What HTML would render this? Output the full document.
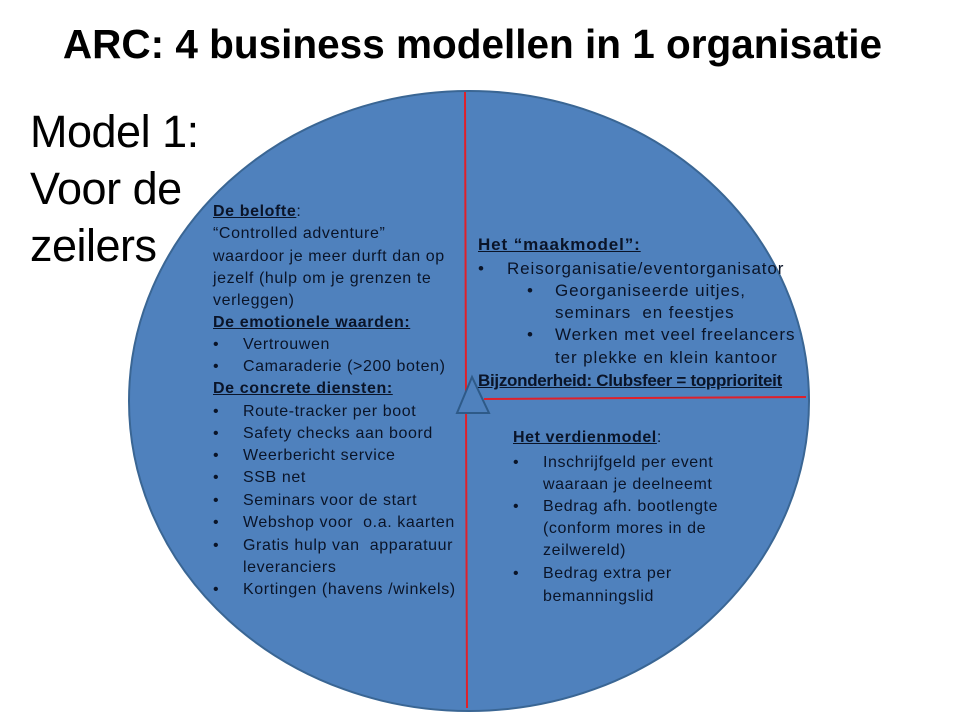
<!DOCTYPE html>
<html><head><meta charset="utf-8"><style>
body{margin:0;width:960px;height:720px;background:#fff;position:relative;overflow:hidden;font-family:"Liberation Sans",sans-serif}
.t{position:absolute;white-space:nowrap;font-size:16px;color:#0a1428;letter-spacing:0.6px;line-height:18px}
.r{font-size:17px;letter-spacing:0.9px}
.b{font-weight:bold;text-decoration:underline}
.bl{position:absolute;left:0}
</style></head><body>
<div style="position:absolute;left:40px;width:865px;top:21px;text-align:center;font-size:40.5px;font-weight:bold;letter-spacing:0px">ARC: 4 business modellen in 1 organisatie</div>
<div style="position:absolute;left:30px;top:103px;font-size:45px;line-height:57px;letter-spacing:-0.5px">Model 1:<br>Voor de<br>zeilers</div>
<svg style="position:absolute;left:0;top:0" width="960" height="720">
<ellipse cx="469" cy="401" rx="340" ry="310" fill="#4f81bd" stroke="#3a6694" stroke-width="2"/>
<line x1="465" y1="92" x2="467" y2="708" stroke="#e0202a" stroke-width="2"/>
<line x1="484" y1="399" x2="806" y2="397" stroke="#e0202a" stroke-width="2"/>
<polygon points="472,377 457,413 489,413" fill="#4f81bd" stroke="#2e5a88" stroke-width="2"/>
</svg>
<div class="t" style="left:213px;top:203px"><span class="b">De belofte</span>:</div>
<div class="t" style="left:213px;top:225px">“Controlled adventure”</div>
<div class="t" style="left:213px;top:248px">waardoor je meer durft dan op</div>
<div class="t" style="left:213px;top:270px">jezelf (hulp om je grenzen te</div>
<div class="t" style="left:213px;top:292px">verleggen)</div>
<div class="t b" style="left:213px;top:314px">De emotionele waarden:</div>
<div class="t" style="left:243px;top:336px"><span class="bl" style="left:-30px">•</span>Vertrouwen</div>
<div class="t" style="left:243px;top:358px"><span class="bl" style="left:-30px">•</span>Camaraderie (&gt;200 boten)</div>
<div class="t b" style="left:213px;top:380px">De concrete diensten:</div>
<div class="t" style="left:243px;top:403px"><span class="bl" style="left:-30px">•</span>Route-tracker per boot</div>
<div class="t" style="left:243px;top:425px"><span class="bl" style="left:-30px">•</span>Safety checks aan boord</div>
<div class="t" style="left:243px;top:447px"><span class="bl" style="left:-30px">•</span>Weerbericht service</div>
<div class="t" style="left:243px;top:469px"><span class="bl" style="left:-30px">•</span>SSB net</div>
<div class="t" style="left:243px;top:492px"><span class="bl" style="left:-30px">•</span>Seminars voor de start</div>
<div class="t" style="left:243px;top:514px"><span class="bl" style="left:-30px">•</span>Webshop voor&nbsp; o.a. kaarten</div>
<div class="t" style="left:243px;top:537px"><span class="bl" style="left:-30px">•</span>Gratis hulp van&nbsp; apparatuur</div>
<div class="t" style="left:243px;top:559px">leveranciers</div>
<div class="t" style="left:243px;top:581px"><span class="bl" style="left:-30px">•</span>Kortingen (havens /winkels)</div>

<div class="t r b" style="left:478px;top:236px">Het “maakmodel”:</div>
<div class="t r" style="left:507px;top:260px"><span class="bl" style="left:-29px">•</span>Reisorganisatie/eventorganisator</div>
<div class="t r" style="left:555px;top:282px"><span class="bl" style="left:-28px">•</span>Georganiseerde uitjes,</div>
<div class="t r" style="left:555px;top:304px">seminars&nbsp; en feestjes</div>
<div class="t r" style="left:555px;top:326px"><span class="bl" style="left:-28px">•</span>Werken met veel freelancers</div>
<div class="t r" style="left:555px;top:349px">ter plekke en klein kantoor</div>
<div class="t r b" style="left:478px;top:372px;letter-spacing:-0.3px">Bijzonderheid: Clubsfeer = topprioriteit</div>

<div class="t" style="left:513px;top:429px"><span class="b">Het verdienmodel</span>:</div>
<div class="t" style="left:543px;top:454px"><span class="bl" style="left:-30px">•</span>Inschrijfgeld per event</div>
<div class="t" style="left:543px;top:476px">waaraan je deelneemt</div>
<div class="t" style="left:543px;top:498px"><span class="bl" style="left:-30px">•</span>Bedrag afh. bootlengte</div>
<div class="t" style="left:543px;top:520px">(conform mores in de</div>
<div class="t" style="left:543px;top:542px">zeilwereld)</div>
<div class="t" style="left:543px;top:565px"><span class="bl" style="left:-30px">•</span>Bedrag extra per</div>
<div class="t" style="left:543px;top:588px">bemanningslid</div>
</body></html>
